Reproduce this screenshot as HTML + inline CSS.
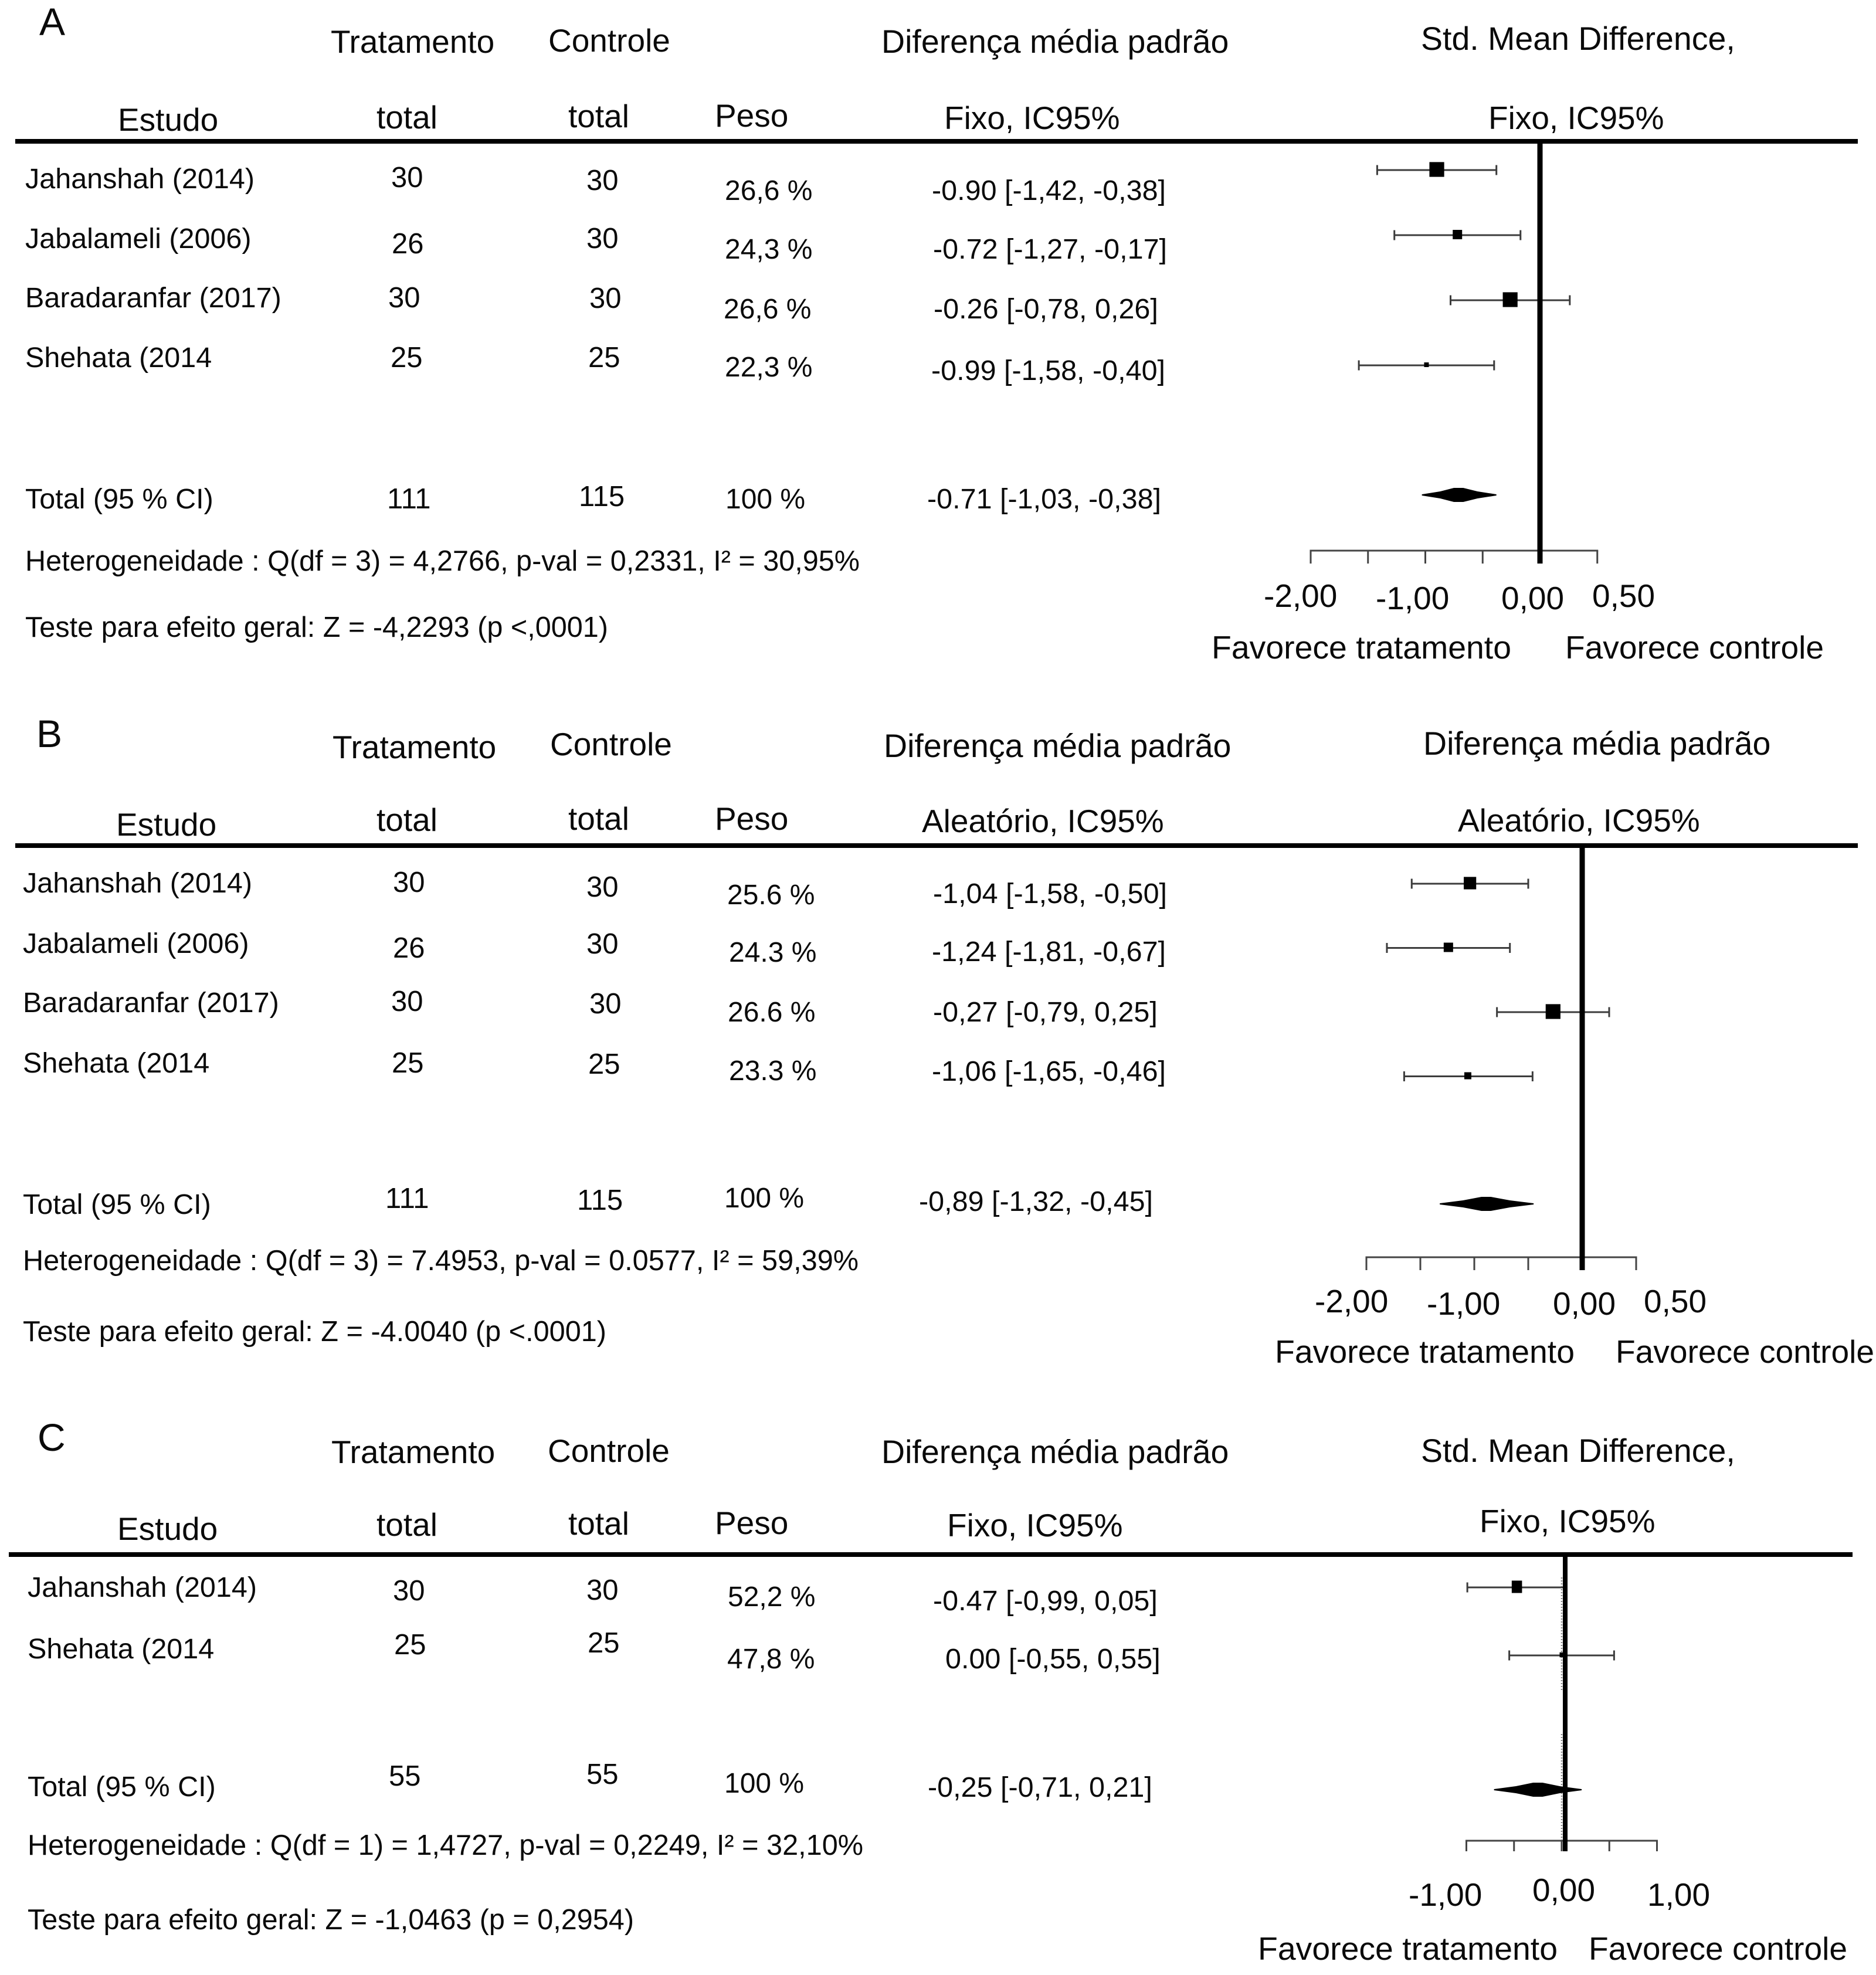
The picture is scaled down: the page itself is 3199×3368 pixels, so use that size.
<!DOCTYPE html>
<html lang="pt">
<head>
<meta charset="utf-8">
<title>Forest plots</title>
<style>
html,body{margin:0;padding:0;background:#fff;width:3199px;height:3368px;overflow:hidden}
svg{display:block}
text{font-family:"Liberation Sans",sans-serif;fill:#0a0a0a;white-space:pre}
.p{font-size:66px}
.h{font-size:55px}
.d{font-size:55.5px}
.r{font-size:48.5px}
.n{font-size:49px}
.w{font-size:48px}
.c{font-size:48.5px}
.s{font-size:49px}
.t{font-size:55px}
</style>
</head>
<body>
<svg id="fig" xmlns="http://www.w3.org/2000/svg" width="3199" height="3368" viewBox="0 0 3199 3368">
<rect width="3199" height="3368" fill="#fff"/>

<g id="panelA">
<text class="p" x="67" y="60">A</text>
<text class="h" x="564" y="90">Tratamento</text>
<text class="h" x="935" y="88">Controle</text>
<text class="d" x="1503" y="90">Diferença média padrão</text>
<text class="d" x="2423" y="85">Std. Mean Difference,</text>
<text class="h" x="201" y="223">Estudo</text>
<text class="h" x="642" y="219">total</text>
<text class="h" x="969" y="217">total</text>
<text class="h" x="1219" y="216">Peso</text>
<text class="h" x="1610" y="220">Fixo, IC95%</text>
<text class="h" x="2538" y="220">Fixo, IC95%</text>

<text class="r" x="43" y="321">Jahanshah (2014)</text>
<text class="n" x="667" y="319">30</text>
<text class="n" x="1000" y="324">30</text>
<text class="w" x="1236" y="341">26,6 %</text>
<text class="c" x="1589" y="341">-0.90 [-1,42, -0,38]</text>

<text class="r" x="43" y="423">Jabalameli (2006)</text>
<text class="n" x="668" y="432">26</text>
<text class="n" x="1000" y="423">30</text>
<text class="w" x="1236" y="441">24,3 %</text>
<text class="c" x="1591" y="441">-0.72 [-1,27, -0,17]</text>

<text class="r" x="43" y="524">Baradaranfar (2017)</text>
<text class="n" x="662" y="524">30</text>
<text class="n" x="1005" y="525">30</text>
<text class="w" x="1234" y="543">26,6 %</text>
<text class="c" x="1592" y="543">-0.26 [-0,78, 0,26]</text>

<text class="r" x="43" y="626">Shehata (2014</text>
<text class="n" x="666" y="626">25</text>
<text class="n" x="1003" y="626">25</text>
<text class="w" x="1236" y="642">22,3 %</text>
<text class="c" x="1588" y="648">-0.99 [-1,58, -0,40]</text>

<text class="r" x="43" y="867">Total (95 % CI)</text>
<text class="n" x="660" y="867">111</text>
<text class="n" x="987" y="863">115</text>
<text class="w" x="1237" y="867">100 %</text>
<text class="c" x="1581" y="867">-0.71 [-1,03, -0,38]</text>
<text class="s" x="43" y="973" textLength="1423" lengthAdjust="spacingAndGlyphs">Heterogeneidade : Q(df = 3) = 4,2766, p-val = 0,2331, I² = 30,95%</text>
<text class="s" x="43" y="1086" textLength="994" lengthAdjust="spacingAndGlyphs">Teste para efeito geral: Z = -4,2293 (p &lt;,0001)</text>

<text class="t" x="2155" y="1035">-2,00</text>
<text class="t" x="2346" y="1039">-1,00</text>
<text class="t" x="2560" y="1039">0,00</text>
<text class="t" x="2715" y="1035">0,50</text>
<text class="t" x="2066" y="1123" textLength="511" lengthAdjust="spacingAndGlyphs">Favorece tratamento</text>
<text class="t" x="2669" y="1123" textLength="441" lengthAdjust="spacingAndGlyphs">Favorece controle</text>
</g>

<g id="panelB">
<text class="p" x="62" y="1274">B</text>
<text class="h" x="567" y="1293">Tratamento</text>
<text class="h" x="938" y="1288">Controle</text>
<text class="d" x="1507" y="1291">Diferença média padrão</text>
<text class="d" x="2427" y="1287">Diferença média padrão</text>
<text class="h" x="198" y="1425">Estudo</text>
<text class="h" x="642" y="1417">total</text>
<text class="h" x="969" y="1415">total</text>
<text class="h" x="1219" y="1415">Peso</text>
<text class="h" x="1572" y="1419">Aleatório, IC95%</text>
<text class="h" x="2486" y="1418">Aleatório, IC95%</text>

<text class="r" x="39" y="1522">Jahanshah (2014)</text>
<text class="n" x="670" y="1521">30</text>
<text class="n" x="1000" y="1529">30</text>
<text class="w" x="1240" y="1542">25.6 %</text>
<text class="c" x="1591" y="1540">-1,04 [-1,58, -0,50]</text>

<text class="r" x="39" y="1625">Jabalameli (2006)</text>
<text class="n" x="670" y="1633">26</text>
<text class="n" x="1000" y="1626">30</text>
<text class="w" x="1243" y="1640">24.3 %</text>
<text class="c" x="1589" y="1639">-1,24 [-1,81, -0,67]</text>

<text class="r" x="39" y="1726">Baradaranfar (2017)</text>
<text class="n" x="667" y="1724">30</text>
<text class="n" x="1005" y="1728">30</text>
<text class="w" x="1241" y="1742">26.6 %</text>
<text class="c" x="1591" y="1742">-0,27 [-0,79, 0,25]</text>

<text class="r" x="39" y="1829">Shehata (2014</text>
<text class="n" x="668" y="1829">25</text>
<text class="n" x="1003" y="1831">25</text>
<text class="w" x="1243" y="1842">23.3 %</text>
<text class="c" x="1589" y="1843">-1,06 [-1,65, -0,46]</text>

<text class="r" x="39" y="2070">Total (95 % CI)</text>
<text class="n" x="657" y="2060">111</text>
<text class="n" x="984" y="2063">115</text>
<text class="w" x="1235" y="2059">100 %</text>
<text class="c" x="1567" y="2065">-0,89 [-1,32, -0,45]</text>
<text class="s" x="39" y="2166" textLength="1425" lengthAdjust="spacingAndGlyphs">Heterogeneidade : Q(df = 3) = 7.4953, p-val = 0.0577, I² = 59,39%</text>
<text class="s" x="39" y="2287" textLength="995" lengthAdjust="spacingAndGlyphs">Teste para efeito geral: Z = -4.0040 (p &lt;.0001)</text>

<text class="t" x="2242" y="2238">-2,00</text>
<text class="t" x="2433" y="2242">-1,00</text>
<text class="t" x="2648" y="2242">0,00</text>
<text class="t" x="2803" y="2238">0,50</text>
<text class="t" x="2174" y="2324" textLength="511" lengthAdjust="spacingAndGlyphs">Favorece tratamento</text>
<text class="t" x="2755" y="2324" textLength="441" lengthAdjust="spacingAndGlyphs">Favorece controle</text>
</g>

<g id="panelC">
<text class="p" x="64" y="2474">C</text>
<text class="h" x="565" y="2495">Tratamento</text>
<text class="h" x="934" y="2493">Controle</text>
<text class="d" x="1503" y="2495">Diferença média padrão</text>
<text class="d" x="2423" y="2493">Std. Mean Difference,</text>
<text class="h" x="200" y="2626">Estudo</text>
<text class="h" x="642" y="2619">total</text>
<text class="h" x="969" y="2617">total</text>
<text class="h" x="1219" y="2616">Peso</text>
<text class="h" x="1615" y="2620">Fixo, IC95%</text>
<text class="h" x="2523" y="2613">Fixo, IC95%</text>

<text class="r" x="47" y="2723">Jahanshah (2014)</text>
<text class="n" x="670" y="2729">30</text>
<text class="n" x="1000" y="2728">30</text>
<text class="w" x="1241" y="2739">52,2 %</text>
<text class="c" x="1591" y="2746">-0.47 [-0,99, 0,05]</text>

<text class="r" x="47" y="2828">Shehata (2014</text>
<text class="n" x="672" y="2821">25</text>
<text class="n" x="1002" y="2818">25</text>
<text class="w" x="1240" y="2845">47,8 %</text>
<text class="c" x="1612" y="2845">0.00 [-0,55, 0,55]</text>

<text class="r" x="47" y="3063">Total (95 % CI)</text>
<text class="n" x="663" y="3045">55</text>
<text class="n" x="1000" y="3042">55</text>
<text class="w" x="1235" y="3057">100 %</text>
<text class="c" x="1582" y="3064">-0,25 [-0,71, 0,21]</text>
<text class="s" x="47" y="3163" textLength="1425" lengthAdjust="spacingAndGlyphs">Heterogeneidade : Q(df = 1) = 1,4727, p-val = 0,2249, I² = 32,10%</text>
<text class="s" x="47" y="3290" textLength="1034" lengthAdjust="spacingAndGlyphs">Teste para efeito geral: Z = -1,0463 (p = 0,2954)</text>

<text class="t" x="2402" y="3250">-1,00</text>
<text class="t" x="2613" y="3242">0,00</text>
<text class="t" x="2809" y="3250">1,00</text>
<text class="t" x="2145" y="3342" textLength="511" lengthAdjust="spacingAndGlyphs">Favorece tratamento</text>
<text class="t" x="2709" y="3342" textLength="441" lengthAdjust="spacingAndGlyphs">Favorece controle</text>
</g>
</svg>

<script>
// Panel A values
const effectsA = [-0.90, -0.72, -0.26, -0.99];
const lowerA = [-1.42, -1.27, -0.78, -1.58];
const upperA = [-0.38, -0.17, 0.26, -0.40];
const weightsA = [26.6, 24.3, 26.6, 22.3];
const summaryA = [-0.71, -1.03, -0.38];
const ticksA = [-2, -1.5, -1, -0.5, 0, 0.5];

// Panel B values
const effectsB = [-1.04, -1.24, -0.27, -1.06];
const lowerB = [-1.58, -1.81, -0.79, -1.65];
const upperB = [-0.50, -0.67, 0.25, -0.46];
const weightsB = [25.6, 24.3, 26.6, 23.3];
const summaryB = [-0.89, -1.32, -0.45];
const ticksB = [-2, -1.5, -1, -0.5, 0, 0.5];

// Panel C values
const effectsC = [-0.47, 0.00];
const lowerC = [-0.99, -0.55];
const upperC = [0.05, 0.55];
const weightsC = [52.2, 47.8];
const summaryC = [-0.25, -0.71, 0.21];
const ticksC = [-1, -0.5, 0, 0.5, 1];

const NS = 'http://www.w3.org/2000/svg';

function mk(parent, tag, attrs) {
  const e = document.createElementNS(NS, tag);
  for (const k in attrs) e.setAttribute(k, attrs[k]);
  parent.appendChild(e);
  return e;
}

function drawPanel(p, effects, lower, upper, weights, summary, ticks) {
  const g = document.getElementById(p.id);
  const x = function (v) { return p.zero + v * p.unit; };
  const rowY = function (i) { return p.rowTop + i * p.rowStep; };
  const markW = function (w) { return p.minW + (w - p.minWeight) * p.wPerWeight; };

  const rule = mk(g, 'rect', {x: p.ruleLeft, y: p.ruleY - 4, width: p.ruleRight - p.ruleLeft, height: 8, fill: '#000'});
  
  

  if (p.dotted) {
    for (const seg of p.dotted) {
      const dot = mk(g, 'line', {x1: x(0), x2: x(0), y1: seg[0], y2: seg[1], stroke: '#888', 'stroke-width': 2.5, 'stroke-dasharray': '2 3'});
      
      
    }
  }

  const axisLine = mk(g, 'line', {x1: x(ticks[0]) - 1.5, x2: x(ticks[ticks.length - 1]) + 1.5, y1: p.axisY, y2: p.axisY, stroke: '#444', 'stroke-width': 3});
  
  

  ticks.forEach(function (t) {
    const tick = mk(g, 'line', {x1: x(t), x2: x(t), y1: p.axisY, y2: p.axisY + p.tickLen, stroke: '#444', 'stroke-width': 3});
    
    
  });

  effects.forEach(function (v, i) {
    const y = rowY(i);
    const ci = mk(g, 'line', {x1: x(lower[i]), x2: x(upper[i]), y1: y, y2: y, stroke: '#3c3c3c', 'stroke-width': 3});
    
    

    [lower[i], upper[i]].forEach(function (b) {
      const cap = mk(g, 'line', {x1: x(b), x2: x(b), y1: y - 8.5, y2: y + 8.5, stroke: '#3c3c3c', 'stroke-width': 3});
      
      
    });

    const w = markW(weights[i]);
    const h = w * p.hRatio;
    const mark = mk(g, 'rect', {x: x(v) - w / 2, y: y - h / 2 - 1, width: w, height: h, fill: '#000'});
    
    
  });

  const sy = p.summaryY;
  const dh = 12;
  const pts = [
    [x(summary[1]), sy - 1],
    [x((summary[0] + summary[1]) / 2), sy - 6],
    [x(summary[0]) - 8, sy - dh],
    [x(summary[0]) + 8, sy - dh],
    [x((summary[0] + summary[2]) / 2), sy - 6],
    [x(summary[2]), sy - 1],
    [x(summary[2]), sy + 1],
    [x((summary[0] + summary[2]) / 2), sy + 6],
    [x(summary[0]) + 8, sy + dh],
    [x(summary[0]) - 8, sy + dh],
    [x((summary[0] + summary[1]) / 2), sy + 6],
    [x(summary[1]), sy + 1]
  ].map(function (q) { return q.join(','); }).join(' ');
  const dia = mk(g, 'polygon', {points: pts, fill: '#000'});
  
  

  const refX = x(0) + p.refOffset;
  const ref = mk(g, 'line', {x1: refX, x2: refX, y1: p.ruleY, y2: p.axisY + p.tickLen, stroke: '#000', 'stroke-width': p.refWidth});
  
  
}

drawPanel({id: 'panelA', zero: 2626, unit: 195.5, ruleLeft: 26, ruleRight: 3168, ruleY: 241,
  axisY: 939, tickLen: 22, rowTop: 290, rowStep: 111, summaryY: 844,
  minW: 8, minWeight: 22.3, wPerWeight: 4, hRatio: 1, refOffset: 0, refWidth: 9},
  effectsA, lowerA, upperA, weightsA, summaryA, ticksA);

drawPanel({id: 'panelB', zero: 2698, unit: 184, ruleLeft: 26, ruleRight: 3168, ruleY: 1442,
  axisY: 2144, tickLen: 22, rowTop: 1507, rowStep: 109.5, summaryY: 2053,
  minW: 8, minWeight: 22.3, wPerWeight: 4, hRatio: 1, refOffset: 0, refWidth: 9},
  effectsB, lowerB, upperB, weightsB, summaryB, ticksB);

drawPanel({id: 'panelC', zero: 2663, unit: 162.5, ruleLeft: 15, ruleRight: 3159, ruleY: 2651,
  axisY: 3139, tickLen: 18, rowTop: 2707, rowStep: 116, summaryY: 3052,
  minW: 7, minWeight: 47.8, wPerWeight: 2.4, hRatio: 1.2, refOffset: 6, refWidth: 8,
  dotted: [[2690, 2883], [2957, 3157]]},
  effectsC, lowerC, upperC, weightsC, summaryC, ticksC);
</script>
</body>
</html>
